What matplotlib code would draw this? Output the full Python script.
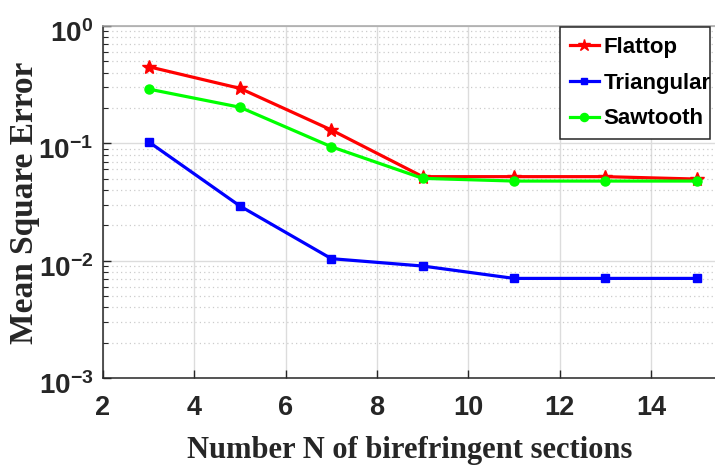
import math
import matplotlib
matplotlib.use("Agg")
import matplotlib.pyplot as plt
import matplotlib.transforms as mtransforms
from matplotlib.ticker import LogLocator, FixedLocator, FuncFormatter, NullFormatter

# Data: mean square error vs number of birefringent sections
n_sections = [3, 5, 7, 9, 11, 13, 15]
mse_flattop = [0.45, 0.294, 0.130, 0.052, 0.052, 0.052, 0.0496]
mse_triangular = [0.103, 0.0292, 0.0104, 0.0090, 0.00706, 0.00706, 0.00706]
mse_sawtooth = [0.290, 0.203, 0.0935, 0.0503, 0.0477, 0.0477, 0.0477]
series_names = ["Flattop", "Triangular", "Sawtooth"]
x_ticks = [2, 4, 6, 8, 10, 12, 14]
y_ticks = [1e-3, 1e-2, 1e-1, 1e0]

plt.rcParams["mathtext.fontset"] = "custom"
plt.rcParams["mathtext.rm"] = "Liberation Sans:bold"
plt.rcParams["mathtext.bf"] = "Liberation Sans:bold"
plt.rcParams["mathtext.default"] = "rm"

W, H = 715, 466
fig = plt.figure(figsize=(W / 100, H / 100), dpi=100)
# axes box in pixels: left 103, top 26, bottom 378; right edge runs past the canvas
left, top, bottom = 103, 26, 378
px_per_unit = 45.67
right = left + px_per_unit * (16 - 2)
ax = fig.add_axes([left / W, (H - bottom) / H, (right - left) / W, (bottom - top) / H])

ax.plot(n_sections, mse_flattop, color="#ff0000", lw=2.3, marker="*", ms=10,
        label=series_names[0])
ax.plot(n_sections, mse_triangular, color="#0000ff", lw=2.3, marker="s", ms=5.5,
        label=series_names[1])
ax.plot(n_sections, mse_sawtooth, color="#00ff00", lw=2.3, marker="o", ms=6.5,
        label=series_names[2])

ax.set_yscale("log")
ax.set_xlim(2, 16)
ax.set_ylim(1e-3, 1)

ax.xaxis.set_major_locator(FixedLocator(x_ticks))
ax.yaxis.set_major_locator(FixedLocator(y_ticks))
ax.yaxis.set_minor_locator(LogLocator(base=10, subs=range(2, 10)))
ax.yaxis.set_minor_formatter(NullFormatter())


def sci_label(v, pos):
    e = int(round(math.log10(v)))
    return r"$10^{%d}$" % e


ax.yaxis.set_major_formatter(FuncFormatter(sci_label))

tick_color = "#262626"
ax.tick_params(axis="both", which="major", direction="in", length=6, width=1,
               color=tick_color, labelcolor=tick_color)
ax.tick_params(axis="y", which="minor", direction="in", length=3.5, width=0.8,
               color=tick_color)
ax.tick_params(axis="x", which="major", pad=12)
ax.tick_params(axis="y", which="major", pad=7)
for lab in ax.get_xticklabels():
    lab.set_fontfamily("Liberation Sans")
    lab.set_fontweight("bold")
    lab.set_fontsize(19.5)
shift_down = mtransforms.ScaledTranslation(0, -5 / 100, fig.dpi_scale_trans)
for lab in ax.get_yticklabels():
    lab.set_fontsize(20)
    lab.set_transform(lab.get_transform() + shift_down)

ax.grid(True, which="major", color="#dcdcdc", lw=1.0, ls="-")
ax.grid(True, which="minor", axis="y", color="#cccccc", lw=0.9, ls=(0, (1, 2.5)))
ax.set_axisbelow(True)

for s in ("left", "bottom"):
    ax.spines[s].set_color(tick_color)
    ax.spines[s].set_linewidth(1.1)
ax.spines["top"].set_color("#a6a6a6")
ax.spines["top"].set_linewidth(1.1)
ax.spines["right"].set_color("#a6a6a6")

# legend box in the upper right corner
leg_left, leg_top, leg_right, leg_bottom = 560, 27, 710, 132
leg = ax.legend(loc="upper left",
                bbox_to_anchor=(leg_left / W, (H - leg_bottom) / H,
                                (leg_right - leg_left) / W, (leg_bottom - leg_top) / H),
                bbox_transform=fig.transFigure, mode="expand",
                prop={"family": "Liberation Sans", "weight": "bold", "size": 16},
                frameon=True, fancybox=False, edgecolor="#262626", framealpha=1,
                handlelength=1.3, handletextpad=0.2, borderpad=0.45,
                labelspacing=0.66, borderaxespad=0, markerscale=0.9)
leg.get_frame().set_linewidth(1.1)

fig.text(410 / W, (H - 458) / H, "Number N of birefringent sections",
         ha="center", va="baseline", fontsize=22, fontweight="bold",
         family="Liberation Serif", color=tick_color)
fig.text(33 / W, (H - 203) / H, "Mean Square Error", ha="center", va="baseline",
         rotation=90, rotation_mode="anchor", fontsize=24, fontweight="bold",
         family="Liberation Serif", color=tick_color)

fig.savefig("out.png", dpi=100)
